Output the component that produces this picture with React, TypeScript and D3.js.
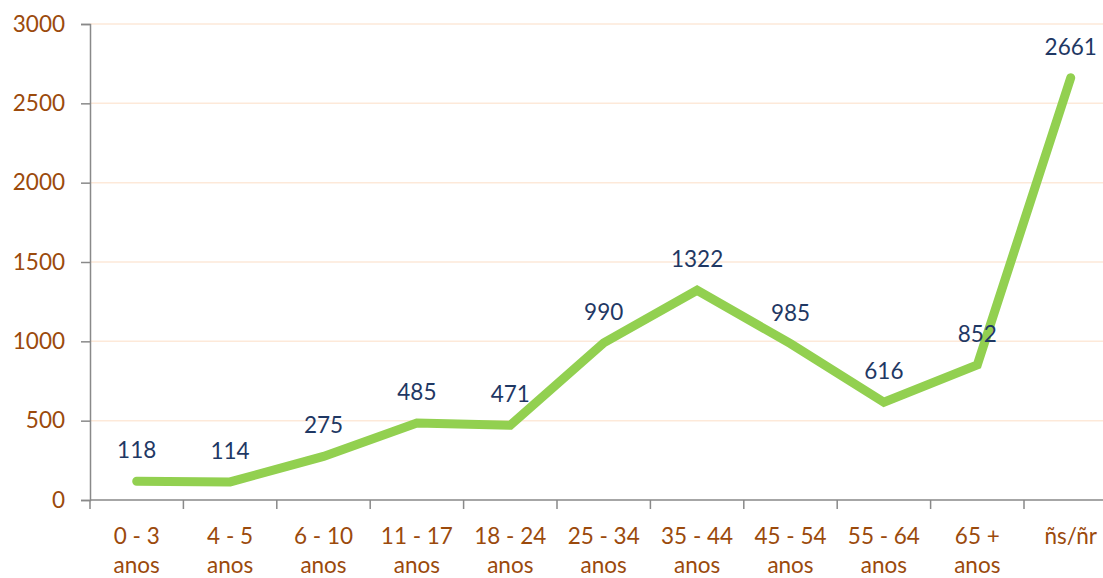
import { useEffect, useRef } from "react";
import * as d3 from "d3";

const categories = [
  ["0 - 3", "anos"],
  ["4 - 5", "anos"],
  ["6 - 10", "anos"],
  ["11 - 17", "anos"],
  ["18 - 24", "anos"],
  ["25 - 34", "anos"],
  ["35 - 44", "anos"],
  ["45 - 54", "anos"],
  ["55 - 64", "anos"],
  ["65 +", "anos"],
  ["ñs/ñr"],
];
const values = [118, 114, 275, 485, 471, 990, 1322, 985, 616, 852, 2661];
const yTicks = [0, 500, 1000, 1500, 2000, 2500, 3000];

const W = 1103;
const H = 578;
const FONT = "Lato, 'Open Sans', sans-serif";
const FS = 22.5;

export default function App() {
  const svgRef = useRef<SVGSVGElement | null>(null);

  useEffect(() => {
    document.body.style.margin = "0";
    if (!svgRef.current) return;
    const svg = d3.select(svgRef.current);
    svg.selectAll("*").remove();

    const left = 90;
    const bottom = 500;
    const top = 24;
    const bandW = 93.4;

    const x = d3
      .scaleBand<number>()
      .domain(d3.range(categories.length))
      .range([left, left + bandW * categories.length]);
    const y = d3.scaleLinear().domain([0, 3000]).range([bottom, top]);

    // grid
    svg
      .append("g")
      .selectAll("line")
      .data(yTicks.filter((t) => t > 0))
      .join("line")
      .attr("x1", left)
      .attr("x2", W)
      .attr("y1", (d) => y(d))
      .attr("y2", (d) => y(d))
      .attr("stroke", "#fde9d9")
      .attr("stroke-width", 1.5);

    // y axis
    const yAxis = svg
      .append("g")
      .attr("transform", `translate(${left},0)`)
      .call(
        d3
          .axisLeft(y)
          .tickValues(yTicks)
          .tickFormat((d) => String(d))
          .tickSize(9)
          .tickPadding(16)
      );
    yAxis.select(".domain").attr("stroke", "#898989").attr("stroke-width", 1.5);
    yAxis.selectAll(".tick line").attr("stroke", "#898989").attr("stroke-width", 1.5);
    yAxis
      .selectAll(".tick text")
      .attr("fill", "#9b4a0c")
      .attr("font-size", FS)
      .attr("font-family", FONT);

    // x axis
    svg
      .append("line")
      .attr("x1", left)
      .attr("x2", W)
      .attr("y1", bottom)
      .attr("y2", bottom)
      .attr("stroke", "#898989")
      .attr("stroke-width", 1.5);
    svg
      .append("g")
      .selectAll("line")
      .data(d3.range(categories.length + 1))
      .join("line")
      .attr("x1", (i) => left + i * x.bandwidth())
      .attr("x2", (i) => left + i * x.bandwidth())
      .attr("y1", bottom)
      .attr("y2", bottom + 9)
      .attr("stroke", "#898989")
      .attr("stroke-width", 1.5);

    const cx = (i: number) => x(i)! + x.bandwidth() / 2;

    const labels = svg
      .append("g")
      .selectAll("text")
      .data(categories)
      .join("text")
      .attr("text-anchor", "middle")
      .attr("fill", "#9b4a0c")
      .attr("font-size", FS)
      .attr("font-family", FONT);
    labels
      .selectAll("tspan")
      .data((d, i) => d.map((s) => ({ s, i })))
      .join("tspan")
      .attr("x", (d) => cx(d.i))
      .attr("y", (_, j) => 544 + j * 29)
      .text((d) => d.s);

    // line
    const line = d3
      .line<number>()
      .x((_, i) => cx(i))
      .y((d) => y(d));
    svg
      .append("path")
      .datum(values)
      .attr("d", line)
      .attr("fill", "none")
      .attr("stroke", "#92d050")
      .attr("stroke-width", 9)
      .attr("stroke-linecap", "round")
      .attr("stroke-linejoin", "miter");

    // data labels
    svg
      .append("g")
      .selectAll("text")
      .data(values)
      .join("text")
      .attr("x", (_, i) => cx(i))
      .attr("y", (d) => y(d) - 23)
      .attr("text-anchor", "middle")
      .attr("fill", "#1f3864")
      .attr("font-size", FS)
      .attr("font-family", FONT)
      .text((d) => d);
  }, []);

  return (
    <svg
      ref={svgRef}
      width={W}
      height={H}
      style={{ display: "block", background: "#fff" }}
    />
  );
}
